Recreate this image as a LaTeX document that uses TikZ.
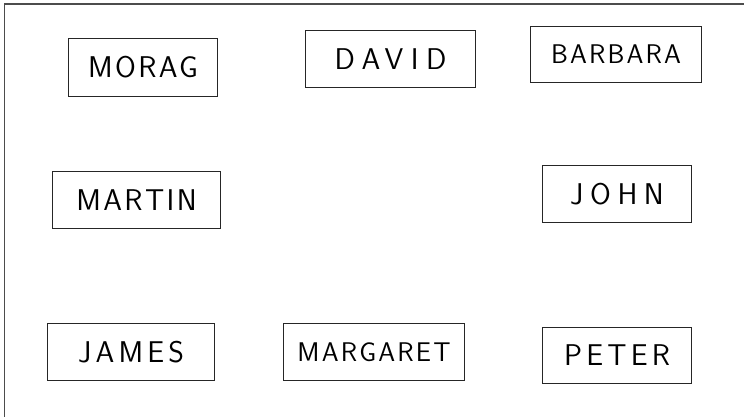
\documentclass[tikz,border=0pt]{standalone}
\usepackage{fontspec}
\setsansfont{Latin Modern Sans}[LetterSpace=8]
\begin{document}
\begin{tikzpicture}[x=1pt,y=-1pt,
  namebox/.style={draw=black!85,line width=1.1pt,inner sep=0pt,anchor=north west,
    font=\sffamily\fontsize{30}{30}\selectfont,text=black},
  smallname/.style={font=\sffamily\fontsize{27}{27}\selectfont},
  frame/.style={draw=black!70,line width=1.5pt}]
\useasboundingbox (0,0) rectangle (744,417);
\draw[frame] (4.5,417) -- (4.5,4) -- (744,4);
\node[namebox,minimum width=149pt,minimum height=58pt] (morag) at (68,38) {MORAG};
\node[namebox,minimum width=170pt,minimum height=57pt] (david) at (305,30) {\addfontfeatures{LetterSpace=25}DAVID};
\node[namebox,smallname,minimum width=171pt,minimum height=56pt] (barbara) at (530,26) {BARBARA};
\node[namebox,minimum width=168pt,minimum height=57pt] (martin) at (52,171) {MARTIN};
\node[namebox,minimum width=149pt,minimum height=57pt] (john) at (542,165) {\addfontfeatures{LetterSpace=22}JOHN};
\node[namebox,minimum width=167pt,minimum height=57pt] (james) at (47,323) {\addfontfeatures{LetterSpace=14}JAMES};
\node[namebox,smallname,minimum width=181pt,minimum height=57pt] (margaret) at (283,323) {MARGARET};
\node[namebox,minimum width=149pt,minimum height=56pt] (peter) at (542,327) {\addfontfeatures{LetterSpace=14}PETER};
\end{tikzpicture}
\end{document}
